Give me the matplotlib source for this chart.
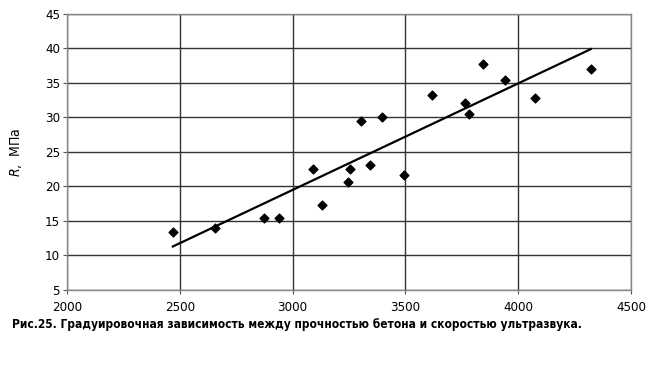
import matplotlib.pyplot as plt

# ultrasound velocity, m/s
velocity = [2469, 2656, 2875, 2941, 3092, 3129, 3247, 3255, 3302, 3341,
            3398, 3494, 3616, 3766, 3783, 3845, 3942, 4075, 4322]
# concrete strength R, MPa
strength = [13.4, 14.0, 15.4, 15.4, 22.5, 17.3, 20.7, 22.5, 29.5, 23.1,
            30.0, 21.7, 33.3, 32.1, 30.5, 37.8, 35.4, 32.8, 37.0]

# calibration line end points
line_x = [2469, 4322]
line_y = [11.3, 39.9]

xticks = [2000, 2500, 3000, 3500, 4000, 4500]
yticks = [5, 10, 15, 20, 25, 30, 35, 40, 45]

caption = ("Рис.25. Градуировочная зависимость между прочностью "
           "бетона и скоростью ультразвука.")

plt.rcParams['font.family'] = ['DejaVu Sans']
plt.rcParams['font.stretch'] = 'condensed'

fig = plt.figure(figsize=(6.53, 3.75), dpi=100)
ax = fig.add_axes([0.1026, 0.2267, 0.8637, 0.7363])

ax.grid(True, color='#333333', linewidth=1.0)
ax.set_axisbelow(True)
ax.plot(line_x, line_y, color='black', linewidth=1.6)
ax.scatter(velocity, strength, marker='D', s=20, color='black', zorder=3)

ax.set_xlim(2000, 4500)
ax.set_ylim(5, 45)
ax.set_xticks(xticks)
ax.set_yticks(yticks)
ax.tick_params(labelsize=9.5, length=3, color='#555555')
ax.tick_params(axis='x', pad=5)
ax.tick_params(axis='y', pad=2)
for s in ax.spines.values():
    s.set_color('#888888')
    s.set_linewidth(1.0)

ax.set_ylabel(r'$R$,  МПа', fontsize=10, labelpad=15)

fig.text(0.018, 0.135, caption, fontsize=8.6, fontweight='bold', ha='left',
         va='center')

fig.savefig('out.png', dpi=100)
